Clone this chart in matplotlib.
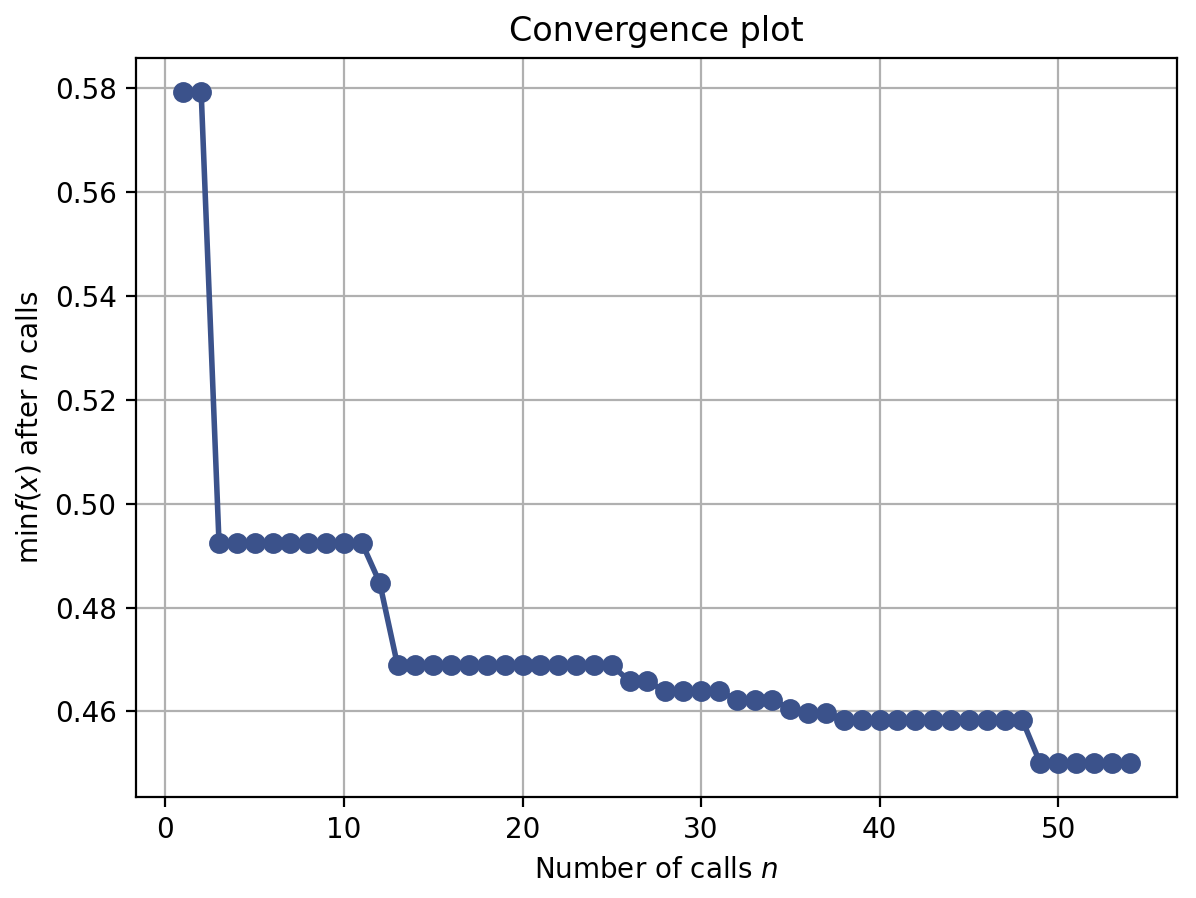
import matplotlib
matplotlib.use("Agg")
import matplotlib.pyplot as plt
from matplotlib import cm

calls = list(range(1, 55))
mins = ([0.5794]*2 + [0.4925]*9 + [0.4848] + [0.4689]*13 + [0.4658]*2 +
        [0.4639]*4 + [0.4623]*3 + [0.4604] + [0.4598]*2 + [0.4583]*11 + [0.4500]*6)

fig, ax = plt.subplots(figsize=(5.98, 4.49), dpi=200)
ax.plot(calls, mins, c=cm.viridis(0.25), marker=".", markersize=13, lw=2)
ax.set_title("Convergence plot")
ax.set_xlabel("Number of calls $n$")
ax.set_ylabel(r"$\min f(x)$ after $n$ calls")
ax.grid()
fig.subplots_adjust(left=0.1137, right=0.984, top=0.9354, bottom=0.1125)
fig.savefig("out.png", dpi=200)
